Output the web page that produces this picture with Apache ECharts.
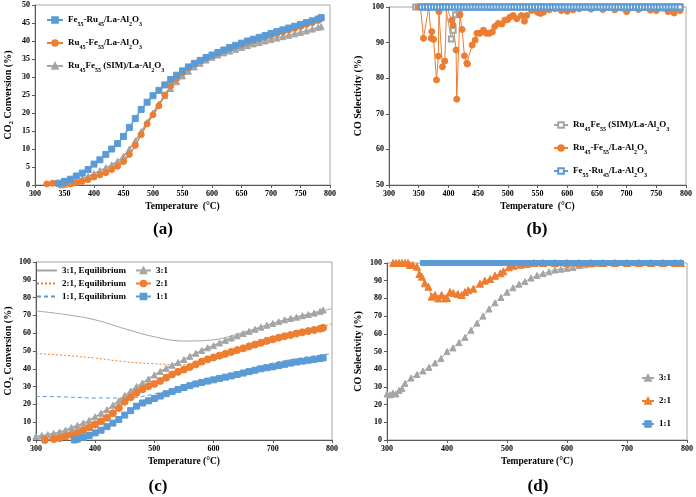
<!DOCTYPE html>
<html>
<head>
<meta charset="utf-8">
<script src="https://cdn.jsdelivr.net/npm/echarts@6/dist/echarts.min.js"></script>
<style>
  html, body { margin: 0; padding: 0; background: #fff; }
  #main { width: 696px; height: 497px; }
</style>
</head>
<body>
<div id="main"></div>
<script>
// ---- (a) CO2 conversion of the three catalysts ----
var aBlueT = [340,350,360,370,380,390,400,410,420,430,440,450,460,470,480,490,500,510,520,530,540,550,560,570,580,590,600,610,620,630,640,650,660,670,680,690,700,710,720,730,740,750,760,770,780,785];
var aBlueV = [0.5,1,1.6,2.5,3.3,4.3,5.8,7,8.5,10,11.5,13.5,16,18.5,21,23,24.8,26.3,27.8,29.3,30.5,31.7,32.8,33.8,34.6,35.4,36.1,36.8,37.5,38.2,38.8,39.4,40,40.5,41,41.5,42.1,42.6,43.1,43.6,44.1,44.6,45.1,45.6,46.1,46.5];
var aOrangeT = [320,330,340,350,360,370,380,390,400,410,420,430,440,450,460,470,480,490,500,510,520,530,540,550,560,570,580,590,600,610,620,630,640,650,660,670,680,690,700,710,720,730,740,750,760,770,780,785];
var aOrangeV = [0.3,0.5,0.3,0.4,0.3,0.6,1,1.5,2.2,2.8,3.4,4.3,5.2,6.5,8.5,11,14,17,19.5,22,25,27.5,29.5,31.2,32.5,33.5,34.5,35.2,36,36.6,37.3,37.9,38.5,39,39.6,40.1,40.6,41.1,41.5,42,42.5,43,43.5,44,44.6,45.1,45.7,46.2];
var aGrayT = [345,350,360,370,380,390,400,410,420,430,440,450,460,470,480,490,500,510,520,530,540,550,560,570,580,590,600,610,620,630,640,650,660,670,680,690,700,710,720,730,740,750,760,770,780,785];
var aGrayV = [0,0.2,0.6,1,1.7,2.4,3.2,4,4.8,5.6,6.6,8,10,12.3,14.8,17.4,20,22.5,24.8,26.8,28.7,30.3,31.6,32.8,33.8,34.7,35.5,36.1,36.7,37.2,37.7,38.2,38.7,39.2,39.6,40,40.4,40.8,41.2,41.6,42,42.4,42.8,43.3,43.8,44];

// ---- (b) CO selectivity of the three catalysts ----
var bGrayT = [345,355,365,375,385,395,405,408,412,418,425,435,445,455,465,475,485,495,505,515,525,535,545,555,565,575,585,595,605,615,625,635,645,655,665,675,685,695,705,715,725,735,745,755,765,775,785,790];
var bGrayV = [100,100,100,100,100,100,91,93.5,97.8,98,100,100,100,100,100,100,100,100,100,100,100,100,100,100,100,100,100,100,100,100,100,100,100,100,100,100,100,100,100,100,100,100,100,100,100,100,100,100];
var bOrangeT = [349,353,358,367,371,372,375,380,383,384,390,394,397,405.5,408,413,414,419.5,423,427,431,432,440,445,448,453,459,464,469,474,478,484,490,495,500,504,509,515,523,528,532,540,550,555,560,570,580,590,600,610,620,640,660,680,700,720,740,750,770,780,790];
var bOrangeV = [100,100,91.2,100,91.2,93.1,90.9,79.5,86.2,98.7,83.2,84.8,100,96.3,94.9,87.9,74.1,97.8,93.7,86.3,84.2,84,89.3,90.7,92.6,92.6,93.5,92.6,92.6,93,94.5,95.4,95.2,96.3,96.5,97.2,97.6,96.7,97.6,96,97.6,99,98.5,98.2,98.5,99.2,99.5,99,98.8,99.2,99.5,99.4,99.3,99.2,98.7,99.3,99.1,99,98.7,98.3,99];
var bBlueT = [355,360,365,370,375,380,385,390,395,400,405,410,415,420,425,430,435,440,445,450,455,460,465,470,475,480,485,490,495,500,505,510,515,520,525,530,535,540,545,550,555,560,565,570,575,580,585,590,595,600,605,610,615,620,625,630,635,640,645,650,655,660,665,670,675,680,685,690,695,700,705,710,715,720,725,730,735,740,745,750,755,760,765,770,775,780,785,790];
var bBlueV = [100,100,100,100,100,100,100,100,100,100,100,100,100,100,100,100,100,100,100,100,100,100,100,100,100,100,100,100,100,100,100,100,100,100,100,100,100,100,100,100,100,100,100,100,100,100,100,100,100,100,100,100,100,100,100,100,100,100,100,100,100,100,100,100,100,100,100,100,100,100,100,100,100,100,100,100,100,100,100,100,100,100,100,100,100,100,100,100];

// ---- (c) CO2 conversion at three feed ratios, with equilibrium ----
var eqT = [300,350,400,450,500,550,600,650,700,750,800];
var c31EqV = [72.5,70.5,67.5,62.5,58,55.6,56.3,60.5,65.5,69.8,73.8];
var c21EqV = [48.6,47.5,46,44,42.8,42.3,45,50,55,60,65.3];
var c11EqV = [24.5,24.2,23.6,23.6,25.8,30,34.5,39,43.3,46.2,48.6];
var c31T = [300,310,320,330,340,350,360,370,380,390,400,410,420,430,440,450,460,470,480,490,500,510,520,530,540,550,560,570,580,590,600,610,620,630,640,650,660,670,680,690,700,710,720,730,740,750,760,770,780,785];
var c31V = [2,2.5,3,3.7,4.5,5.5,7,8.2,9.5,11,13,15,17,19.5,22,25,27.5,30,32,34.3,36.5,38.5,40.3,42,43.5,45.2,47,48.7,50.3,51.8,53,54.5,56,57.3,58.5,59.8,61,62.2,63.4,64.5,65.5,66.5,67.5,68.3,69,69.8,70.5,71.3,72.3,73];
var c21T = [315,330,340,350,360,370,380,390,400,410,420,430,440,450,460,470,480,490,500,510,520,530,540,550,560,570,580,590,600,610,620,630,640,650,660,670,680,690,700,710,720,730,740,750,760,770,780,785];
var c21V = [0,0.5,1,2,3,4,5.5,7,8.7,10.5,12.5,15,18,21.5,24,26.5,28.5,30.2,31.5,33.2,35,36.8,38.3,39.6,41,42.5,44,45.3,46.4,47.4,48.4,49.5,50.5,51.5,52.6,53.6,54.6,55.7,56.6,57.5,58.3,59,59.8,60.5,61.2,61.8,62.5,63];
var c11T = [365,370,380,390,400,410,420,430,440,450,460,470,480,490,500,510,520,530,540,550,560,570,580,590,600,610,620,630,640,650,660,670,680,690,700,710,720,730,740,750,760,770,780,785];
var c11V = [0,0.5,1.5,2.5,4,5.5,7.5,9.5,11.5,14,16.5,19,20.8,22,23.3,24.7,26,27.3,28.4,29.5,30.5,31.5,32.3,33.1,33.8,34.6,35.3,36,36.8,37.6,38.4,39.2,40,40.6,41.1,41.8,42.5,43.2,43.8,44.3,44.8,45.3,45.8,46.2];

// ---- (d) CO selectivity at three feed ratios ----
var d31T = [300,305,310,315,320,325,330,340,350,360,370,380,390,400,410,420,430,440,450,460,470,480,490,500,510,520,530,540,550,560,570,580,590,600,610,620,630,640,650,660,680,700,720,740,760,780,790];
var d31V = [26,25.5,26.5,26,28,29,32,35,37,39,41,43.5,46,50,52,55,58,62,66,70,74,77.5,80.5,83.5,86,88,89.5,91.5,93,94,95,96,96.5,97,97.5,98.5,99,99.5,99.8,100,100,100,100,100,100,100,100];
var d21T = [310,315,320,325,330,335,338,343,350,354,358,363,369,374.5,380,385.5,391,396.7,400,405,410.6,418,424.5,430,435.5,444,455,463,472,480,489,494,503,511,522,533,545,560,580,600,620,640,660,680,700,720,740,760,780,790];
var d21V = [100,100,100,100,100,100,98.9,98.9,97.9,93.8,92.3,88.5,86.6,81,81.9,80,81.9,80,80.2,83.6,83,82.5,81.9,83.6,84.6,85.5,88.3,90,91,92.8,94.2,95.3,97.6,98.5,99,99.5,100,100,100,100,100,100,100,100,100,100,100,100,100,100];
var d11T = [360,365,370,375,380,385,390,395,400,405,410,415,420,425,430,435,440,445,450,455,460,465,470,475,480,485,490,495,500,505,510,515,520,525,530,535,540,545,550,555,560,565,570,575,580,585,590,595,600,605,610,615,620,625,630,635,640,645,650,655,660,665,670,675,680,685,690,695,700,705,710,715,720,725,730,735,740,745,750,755,760,765,770,775,780,785,790];
var d11V = [100,100,100,100,100,100,100,100,100,100,100,100,100,100,100,100,100,100,100,100,100,100,100,100,100,100,100,100,100,100,100,100,100,100,100,100,100,100,100,100,100,100,100,100,100,100,100,100,100,100,100,100,100,100,100,100,100,100,100,100,100,100,100,100,100,100,100,100,100,100,100,100,100,100,100,100,100,100,100,100,100,100,100,100,100,100,100];

var BLUE = '#5B9BD5', ORANGE = '#ED7D31', GRAY = '#A5A5A5';
var FONT = 'Liberation Serif';

// legend texts with subscripts (rich text)
var labels = {
  a1: 'Fe{s|55}-Ru{s|45}/La-Al{s|2}O{s|3}',
  a2: 'Ru{s|45}-Fe{s|55}/La-Al{s|2}O{s|3}',
  a3: 'Ru{s|45}Fe{s|55} (SIM)/La-Al{s|2}O{s|3}',
  b1: 'Ru{s|45}Fe{s|55} (SIM)/La-Al{s|2}O{s|3}',
  b2: 'Ru{s|45}-Fe{s|55}/La-Al{s|2}O{s|3}',
  b3: 'Fe{s|55}-Ru{s|45}/La-Al{s|2}O{s|3}',
  c31e: '3:1, Equilibrium',
  c21e: '2:1, Equilibrium',
  c11e: '1:1, Equilibrium',
  c31: '3:1', c21: '2:1', c11: '1:1',
  d31: '3:1', d21: '2:1', d11: '1:1'
};

function zip(t, v) {
  return t.map(function (x, i) { return [x, v[i]]; });
}

var subRich = { s: { fontFamily: FONT, fontWeight: 'bold', fontSize: 6, color: '#000', verticalAlign: 'bottom', lineHeight: 8 } };

function legend(names, left, top, gap, w, lh) {
  return {
    orient: 'vertical', left: left, top: top, padding: 0,
    itemWidth: w, itemHeight: 7, itemGap: gap,
    data: names,
    formatter: function (n) { return labels[n]; },
    textStyle: { fontFamily: FONT, fontWeight: 'bold', fontSize: 9, color: '#000', lineHeight: lh, rich: subRich }
  };
}

// legend entries for the equilibrium curves: line only, no marker
function lineOnly(name) {
  return { name: name, itemStyle: { opacity: 0, color: 'rgba(0,0,0,0)', borderWidth: 0 } };
}

function xAxis(grid, interval, name) {
  return {
    type: 'value', gridIndex: grid, min: 300, max: 800, interval: interval,
    name: name, nameLocation: 'middle', nameGap: 17,
    nameTextStyle: { fontFamily: FONT, fontWeight: 'bold', fontSize: 9.5, color: '#000' },
    axisLine: { lineStyle: { color: '#595959' } },
    axisTick: { show: true, length: 3, lineStyle: { color: '#595959' } },
    axisLabel: { fontFamily: FONT, fontWeight: 'bold', fontSize: 8, color: '#000', margin: 5 },
    splitLine: { show: false }
  };
}

function yAxis(grid, min, max, interval, name, gap) {
  return {
    type: 'value', gridIndex: grid, min: min, max: max, interval: interval,
    name: name, nameLocation: 'middle', nameGap: gap, nameRotate: 90,
    nameTextStyle: {
      fontFamily: FONT, fontWeight: 'bold', fontSize: 10, color: '#000', lineHeight: 14,
      rich: { s: { fontFamily: FONT, fontWeight: 'bold', fontSize: 7, color: '#000', verticalAlign: 'bottom', lineHeight: 9 } }
    },
    axisLine: { show: true, lineStyle: { color: '#595959' } },
    axisTick: { show: true, length: 3, lineStyle: { color: '#595959' } },
    axisLabel: { fontFamily: FONT, fontWeight: 'bold', fontSize: 8, color: '#000', margin: 5 },
    splitLine: { show: false }
  };
}

function marks(name, idx, data, color, symbol, size, lw) {
  return {
    name: name, type: 'line', xAxisIndex: idx, yAxisIndex: idx,
    data: data, symbol: symbol, symbolSize: size, showSymbol: true,
    lineStyle: { color: color, width: lw },
    itemStyle: { color: color, borderColor: color, borderWidth: 1 },
    animation: false
  };
}

function eqLine(name, data, color, type) {
  return {
    name: name, type: 'line', xAxisIndex: 2, yAxisIndex: 2,
    data: data, symbol: 'none', smooth: 0.4,
    lineStyle: { color: color, width: 1, type: type },
    itemStyle: { color: color },
    animation: false
  };
}

var chart = echarts.init(document.getElementById('main'));

var frame = { show: true, borderColor: '#a6a6a6', borderWidth: 1 };

chart.setOption({
  backgroundColor: '#fff',
  animation: false,
  grid: [
    Object.assign({ left: 33, top: 5, width: 297, height: 180 }, frame),
    Object.assign({ left: 389, top: 7, width: 297, height: 178 }, frame),
    Object.assign({ left: 32, top: 262, width: 300, height: 178 }, frame),
    Object.assign({ left: 387, top: 263, width: 300, height: 177 }, frame)
  ],
  xAxis: [
    xAxis(0, 50, 'Temperature  (°C)'),
    xAxis(1, 50, 'Temperature  (°C)'),
    xAxis(2, 100, 'Temperature (°C)'),
    xAxis(3, 100, 'Temperature (°C)')
  ],
  yAxis: [
    yAxis(0, 0, 50, 5, 'CO{s|2} Conversion (%)', 20),
    yAxis(1, 50, 100, 10, 'CO Selectivity (%)', 24),
    yAxis(2, 0, 100, 10, 'CO{s|2} Conversion (%)', 20),
    yAxis(3, 0, 100, 10, 'CO Selectivity (%)', 22)
  ],
  legend: [
    legend(['a1', 'a2', 'a3'], 46, 13, 9, 16, 14),
    legend(['b1', 'b2', 'b3'], 553, 118, 9, 14, 14),
    legend([lineOnly('c31e'), lineOnly('c21e'), lineOnly('c11e')], 36, 265, 2, 20, 11),
    legend(['c31', 'c21', 'c11'], 135, 265, 2, 15, 11),
    legend(['d31', 'd21', 'd11'], 641, 371, 9, 12, 14)
  ],
  graphic: [
    { type: 'text', x: 163, y: 230, style: { text: '(a)', font: 'bold 17px "Liberation Serif"', fill: '#000', textAlign: 'center', textVerticalAlign: 'middle' } },
    { type: 'text', x: 537, y: 230, style: { text: '(b)', font: 'bold 17px "Liberation Serif"', fill: '#000', textAlign: 'center', textVerticalAlign: 'middle' } },
    { type: 'text', x: 158, y: 487, style: { text: '(c)', font: 'bold 17px "Liberation Serif"', fill: '#000', textAlign: 'center', textVerticalAlign: 'middle' } },
    { type: 'text', x: 538, y: 487, style: { text: '(d)', font: 'bold 17px "Liberation Serif"', fill: '#000', textAlign: 'center', textVerticalAlign: 'middle' } }
  ],
  series: [
    marks('a3', 0, zip(aGrayT, aGrayV), GRAY, 'triangle', 6, 1.5),
    marks('a2', 0, zip(aOrangeT, aOrangeV), ORANGE, 'circle', 6, 1.5),
    marks('a1', 0, zip(aBlueT, aBlueV), BLUE, 'rect', 6, 1.5),

    marks('b1', 1, zip(bGrayT, bGrayV), GRAY, 'emptyRect', 5, 1),
    marks('b2', 1, zip(bOrangeT, bOrangeV), ORANGE, 'circle', 6, 1),
    marks('b3', 1, zip(bBlueT, bBlueV), BLUE, 'emptyRect', 5, 1),

    eqLine('c31e', zip(eqT, c31EqV), GRAY, 'solid'),
    eqLine('c21e', zip(eqT, c21EqV), ORANGE, [2, 2]),
    eqLine('c11e', zip(eqT, c11EqV), BLUE, [4, 3]),
    marks('c31', 2, zip(c31T, c31V), GRAY, 'triangle', 6, 1.5),
    marks('c21', 2, zip(c21T, c21V), ORANGE, 'circle', 7, 1.5),
    marks('c11', 2, zip(c11T, c11V), BLUE, 'rect', 6, 1.5),

    marks('d31', 3, zip(d31T, d31V), GRAY, 'triangle', 6, 1),
    marks('d21', 3, zip(d21T, d21V), ORANGE, 'triangle', 7, 1),
    marks('d11', 3, zip(d11T, d11V), BLUE, 'rect', 5, 1)
  ]
});
</script>
</body>
</html>
